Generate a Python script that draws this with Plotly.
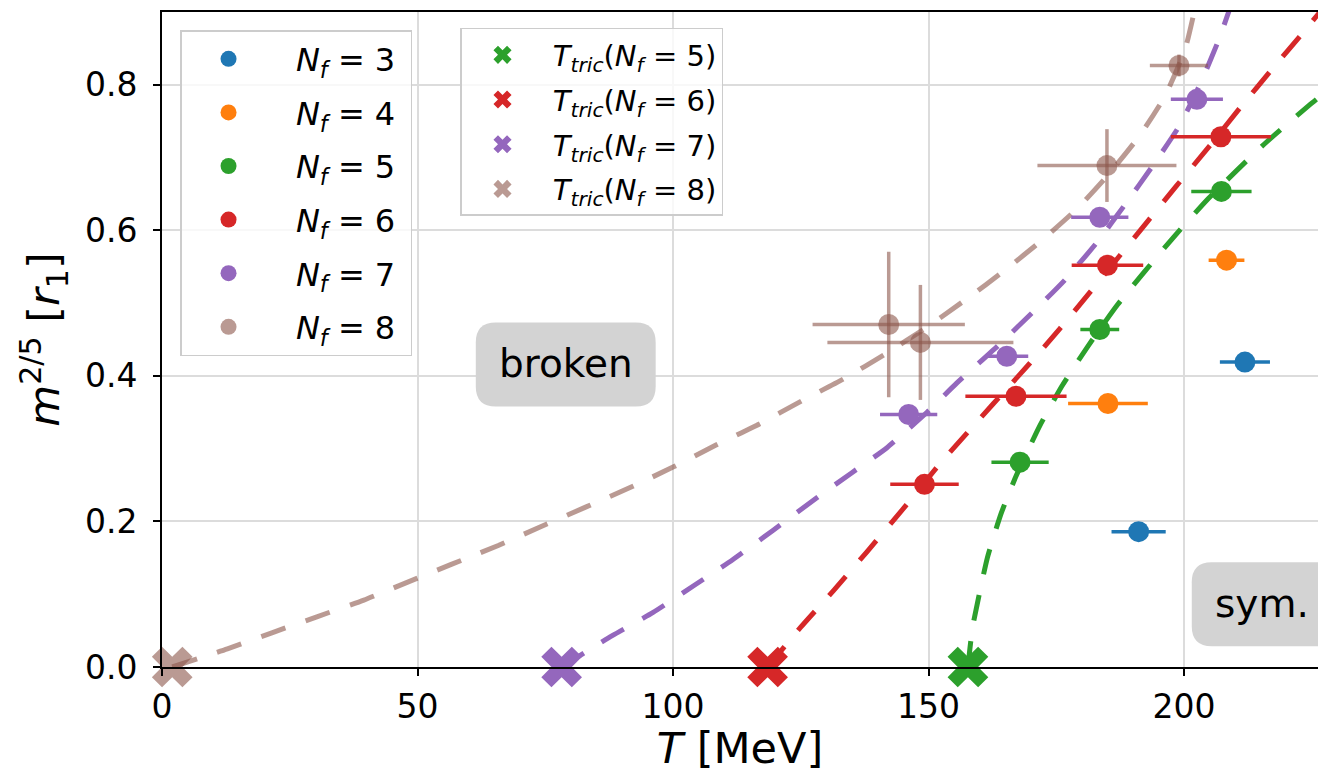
import plotly.graph_objects as go

# ---------------- data ----------------
colors = {3: "#1f77b4", 4: "#ff7f0e", 5: "#2ca02c", 6: "#d62728", 7: "#9467bd", 8: "rgba(140,86,75,0.6)"}

nf3_T = [191.1, 211.9]
nf3_m = [0.186, 0.419]
nf3_dT = [5.3, 4.9]

nf4_T = [185.1, 208.3]
nf4_m = [0.362, 0.559]
nf4_dT = [7.8, 3.5]

nf5_T = [167.9, 183.5, 207.3]
nf5_m = [0.2815, 0.4637, 0.6535]
nf5_dT = [5.6, 3.8, 5.9]

nf6_T = [149.2, 167.1, 185.0, 207.2]
nf6_m = [0.251, 0.372, 0.552, 0.7286]
nf6_dT = [6.7, 9.9, 7.0, 9.8]

nf7_T = [146.1, 165.3, 183.5, 202.5]
nf7_m = [0.347, 0.427, 0.618, 0.780]
nf7_dT = [5.6, 4.2, 5.6, 5.1]

nf8_T = [142.2, 148.4, 184.9, 199.0]
nf8_m = [0.4706, 0.446, 0.689, 0.8265]
nf8_dT = [14.9, 18.2, 13.6, 5.7]
nf8_dm = [0.100, 0.079, 0.050, 0.015]

# tricritical temperatures (N_f = 5, 6, 7, 8)
tric_nf = [5, 6, 7, 8]
tric_T = [157.7, 118.5, 78.2, 2.0]

# dashed fit curves
fit5_T = [157.7, 158.6, 161.5, 164.2, 167.1, 171.8, 176.1, 181.2, 187.0, 197.5, 204.8, 215.6, 224.5, 228.0]
fit5_m = [0.0, 0.054, 0.150, 0.211, 0.262, 0.332, 0.386, 0.441, 0.498, 0.587, 0.644, 0.718, 0.772, 0.792]

fit6_T = [118.5, 124.9, 131.4, 137.9, 144.4, 152.3, 162.7, 169.9, 175.7, 181.6, 192.7, 198.5, 205.0, 210.9, 217.4, 223.3, 228.0]
fit6_m = [0.0, 0.054, 0.105, 0.158, 0.212, 0.280, 0.362, 0.418, 0.465, 0.515, 0.611, 0.661, 0.716, 0.768, 0.823, 0.872, 0.912]

fit7_T = [78.2, 88.1, 96.1, 104.1, 111.6, 119.6, 128.2, 135.0, 141.8, 149.7, 155.5, 163.5, 171.2, 176.7, 182.9, 188.4, 194.0, 199.2, 203.4, 206.9, 209.7]
fit7_m = [0.0, 0.043, 0.075, 0.112, 0.147, 0.188, 0.233, 0.267, 0.301, 0.350, 0.390, 0.441, 0.493, 0.532, 0.583, 0.635, 0.690, 0.745, 0.805, 0.864, 0.92]

fit8_T = [2.0, 12.8, 21.5, 30.3, 39.5, 48.2, 56.6, 65.8, 74.2, 83.0, 91.7, 100.1, 108.4, 116.9, 125.0, 133.4, 141.5, 149.7, 157.5, 164.9, 172.1, 179.1, 185.0, 191.4, 196.3, 200.2, 202.6]
fit8_m = [0.0, 0.025, 0.047, 0.069, 0.092, 0.117, 0.141, 0.167, 0.193, 0.220, 0.247, 0.275, 0.305, 0.334, 0.365, 0.396, 0.430, 0.467, 0.506, 0.545, 0.586, 0.630, 0.675, 0.731, 0.785, 0.849, 0.92]

x_ticks = [0, 50, 100, 150, 200]
y_ticks = [0.0, 0.2, 0.4, 0.6, 0.8]

# ---------------- figure ----------------
FONT = "DejaVu Sans"
fig = go.Figure()

fits = [(5, fit5_T, fit5_m), (6, fit6_T, fit6_m), (7, fit7_T, fit7_m), (8, fit8_T, fit8_m)]
for nf, t, m in fits:
    fig.add_trace(go.Scatter(
        x=t, y=m, mode="lines", showlegend=False, hoverinfo="skip",
        line=dict(color=colors[nf], width=5, dash="26px,21px", shape="spline", smoothing=0.5),
    ))

series = [
    (3, nf3_T, nf3_m, nf3_dT, None),
    (4, nf4_T, nf4_m, nf4_dT, None),
    (5, nf5_T, nf5_m, nf5_dT, None),
    (6, nf6_T, nf6_m, nf6_dT, None),
    (7, nf7_T, nf7_m, nf7_dT, None),
    (8, nf8_T, nf8_m, nf8_dT, nf8_dm),
]
for nf, t, m, dt, dm in series:
    c = colors[nf]
    tr = go.Scatter(
        x=t, y=m, mode="markers",
        name=f"&nbsp;&nbsp;<i>N</i><sub><i>f</i></sub> = {nf}&nbsp;",
        legend="legend", legendgroup=f"nf{nf}",
        marker=dict(color=c, size=21, line=dict(width=0)),
        error_x=dict(type="data", array=dt, color=c, thickness=3.5, width=0),
    )
    if dm is not None:
        tr.error_y = dict(type="data", array=dm, color=c, thickness=3.5, width=0)
    fig.add_trace(tr)

for nf, t in zip(tric_nf, tric_T):
    fig.add_trace(go.Scatter(
        x=[t], y=[0.0], mode="markers",
        name=f"&nbsp;<i>T</i><sub><i>tric</i></sub>(<i>N</i><sub><i>f</i></sub> = {nf})",
        legend="legend2", legendgroup=f"tric{nf}",
        marker=dict(symbol="x", color=colors[nf], size=36, line=dict(width=0)),
        cliponaxis=False,
    ))

def rounded_box(x0, x1, y0, y1, rx, ry):
    return (f"M {x0+rx},{y0} L {x1-rx},{y0} Q {x1},{y0} {x1},{y0+ry} "
            f"L {x1},{y1-ry} Q {x1},{y1} {x1-rx},{y1} L {x0+rx},{y1} "
            f"Q {x0},{y1} {x0},{y1-ry} L {x0},{y0+ry} Q {x0},{y0} {x0+rx},{y0} Z")

RX, RY = 3.9, 0.0275
fig.add_shape(type="path", xref="x", yref="y", layer="above",
              path=rounded_box(61.4, 96.6, 0.358, 0.4733, RX, RY),
              fillcolor="#d3d3d3", line=dict(width=0))
fig.add_shape(type="path", xref="x", yref="y", layer="above",
              path=rounded_box(201.5, 232.0, 0.0286, 0.1438, RX, RY),
              fillcolor="#d3d3d3", line=dict(width=0))
fig.add_annotation(x=79.0, y=0.417, xref="x", yref="y", text="broken", showarrow=False,
                   font=dict(family=FONT, size=39, color="black"))
fig.add_annotation(x=215.2, y=0.0876, xref="x", yref="y", text="sym.", showarrow=False,
                   font=dict(family=FONT, size=39, color="black"))

axis_common = dict(
    showgrid=True, gridcolor="#dcdcdc", gridwidth=1.5,
    showline=True, linecolor="black", linewidth=2,
    ticks="outside", ticklen=7, tickwidth=2, tickcolor="black",
    zeroline=False, tickfont=dict(family=FONT, size=33, color="black"),
)
fig.update_xaxes(range=[0, 226.2], tickvals=x_ticks, ticktext=[str(v) for v in x_ticks],
                 mirror=True, ticklabelstandoff=2,
                 title=dict(text="<i>T</i> [MeV]", font=dict(family=FONT, size=43, color="black"), standoff=6),
                 **axis_common)
fig.update_yaxes(range=[0, 0.9], tickvals=y_ticks, ticktext=[f"{v:.1f}" for v in y_ticks],
                 ticklabelstandoff=9,
                 title=dict(text="<i>m</i><sup>2/5</sup> [<i>r</i><sub>1</sub>]", font=dict(family=FONT, size=43, color="black"), standoff=12),
                 **axis_common)

fig.update_layout(
    width=1318, height=773,
    margin=dict(l=162, r=0, t=12, b=106),
    plot_bgcolor="white", paper_bgcolor="white",
    font=dict(family=FONT, color="black"),
    legend=dict(x=0.0156, y=0.9725, xanchor="left", yanchor="top",
                bgcolor="rgba(255,255,255,0.8)", bordercolor="#cccccc", borderwidth=1.5,
                font=dict(family=FONT, size=32, color="black"),
                itemwidth=84, tracegroupgap=9, itemsizing="trace"),
    legend2=dict(x=0.2578, y=0.9756, xanchor="left", yanchor="top",
                 bgcolor="rgba(255,255,255,0.8)", bordercolor="#cccccc", borderwidth=1.5,
                 font=dict(family=FONT, size=29, color="black"),
                 itemwidth=72, tracegroupgap=4, itemsizing="trace"),
)

fig.write_html("out.html", config={"displayModeBar": False},
               post_script="document.body.style.margin='0';document.body.style.overflow='hidden';")
